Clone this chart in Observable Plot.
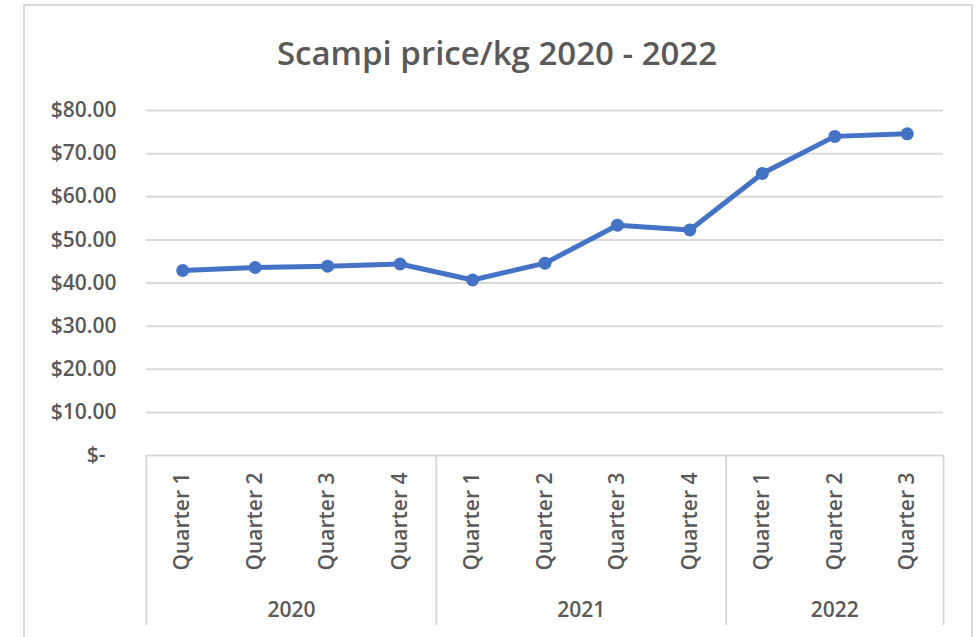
<!DOCTYPE html>
<html>
<head>
<meta charset="utf-8">
<script src="https://cdn.jsdelivr.net/npm/d3@7"></script>
<script src="https://cdn.jsdelivr.net/npm/@observablehq/plot@0.6"></script>
<style>
  html, body { margin: 0; padding: 0; background: #fff; }
  #wrap { position: relative; width: 977px; height: 637px; overflow: hidden; font-family: "Open Sans", sans-serif; }
  #frame { position: absolute; left: 23px; top: 4px; width: 950px; height: 700px; border: 2px solid #d9d9d9; box-sizing: border-box; }
  #title { position: absolute; left: 24px; width: 946px; top: 36px; text-align: center; font-size: 33px; font-weight: 600; line-height: 34px; color: #595959; white-space: nowrap; }
  #chart { position: absolute; left: 0; top: 0; }
</style>
</head>
<body>
<div id="wrap">
  <div id="frame"></div>
  <div id="chart"></div>
  <div id="title"></div>
</div>
<script>
const title = "Scampi price/kg 2020 - 2022";
const years = ["2020", "2020", "2020", "2020", "2021", "2021", "2021", "2021", "2022", "2022", "2022"];
const quarters = ["Quarter 1", "Quarter 2", "Quarter 3", "Quarter 4", "Quarter 1", "Quarter 2", "Quarter 3", "Quarter 4", "Quarter 1", "Quarter 2", "Quarter 3"];
const prices = [42.9, 43.6, 43.9, 44.4, 40.7, 44.6, 53.4, 52.3, 65.4, 74.0, 74.6];
const yTicks = [0, 10, 20, 30, 40, 50, 60, 70, 80];

document.getElementById("title").textContent = title;

const data = prices.map((p, i) => ({i, year: years[i], quarter: quarters[i], price: p}));

// year groups derived from the category arrays
const groups = [];
years.forEach((y, i) => {
  const last = groups[groups.length - 1];
  if (last && last.year === y) last.end = i + 0.5;
  else groups.push({year: y, start: i - 0.5, end: i + 0.5});
});
groups.forEach(g => g.center = (g.start + g.end) / 2);
const bounds = [groups[0].start, ...groups.map(g => g.end)];

const W = 977, H = 637;
const mL = 146, mR = 34, mT = 110, mB = 182;
const frameH = H - mT - mB;
const grid = "#d9d9d9";
const blue = "#4472C4";
const ink = "#595959";
const nb = "\u00a0";

const chart = Plot.plot({
  width: W,
  height: H,
  marginLeft: mL,
  marginRight: mR,
  marginTop: mT,
  marginBottom: mB,
  style: {fontFamily: "Open Sans, sans-serif", color: ink, background: "transparent", overflow: "visible"},
  x: {type: "linear", domain: [-0.5, prices.length - 0.5], axis: null, label: null},
  y: {domain: [0, 80], axis: null, label: null},
  marks: [
    Plot.ruleY(yTicks, {stroke: grid, strokeWidth: 2}),
    Plot.ruleX(bounds, {x: d => d, stroke: grid, strokeWidth: 2, insetTop: frameH, insetBottom: -170}),
    Plot.axisY(yTicks, {
      label: null, tickSize: 0, tickPadding: 30, fontSize: 21, fontWeight: 600, fill: ink,
      tickFormat: d => d === 0 ? "$-" + nb + nb : "$" + d.toFixed(2)
    }),
    Plot.text(data, {
      x: "i", frameAnchor: "bottom", text: "quarter", rotate: -90,
      textAnchor: "end", lineAnchor: "middle", dy: 17, fontSize: 21, fontWeight: 600, fill: ink
    }),
    Plot.text(groups, {
      x: "center", frameAnchor: "bottom", text: "year",
      lineAnchor: "middle", dy: 155, fontSize: 21, fontWeight: 600, fill: ink
    }),
    Plot.line(data, {x: "i", y: "price", stroke: blue, strokeWidth: 5, strokeLinejoin: "round", strokeLinecap: "round"}),
    Plot.dot(data, {x: "i", y: "price", r: 6.5, fill: blue, stroke: "none"})
  ]
});
document.getElementById("chart").appendChild(chart);
</script>
</body>
</html>
